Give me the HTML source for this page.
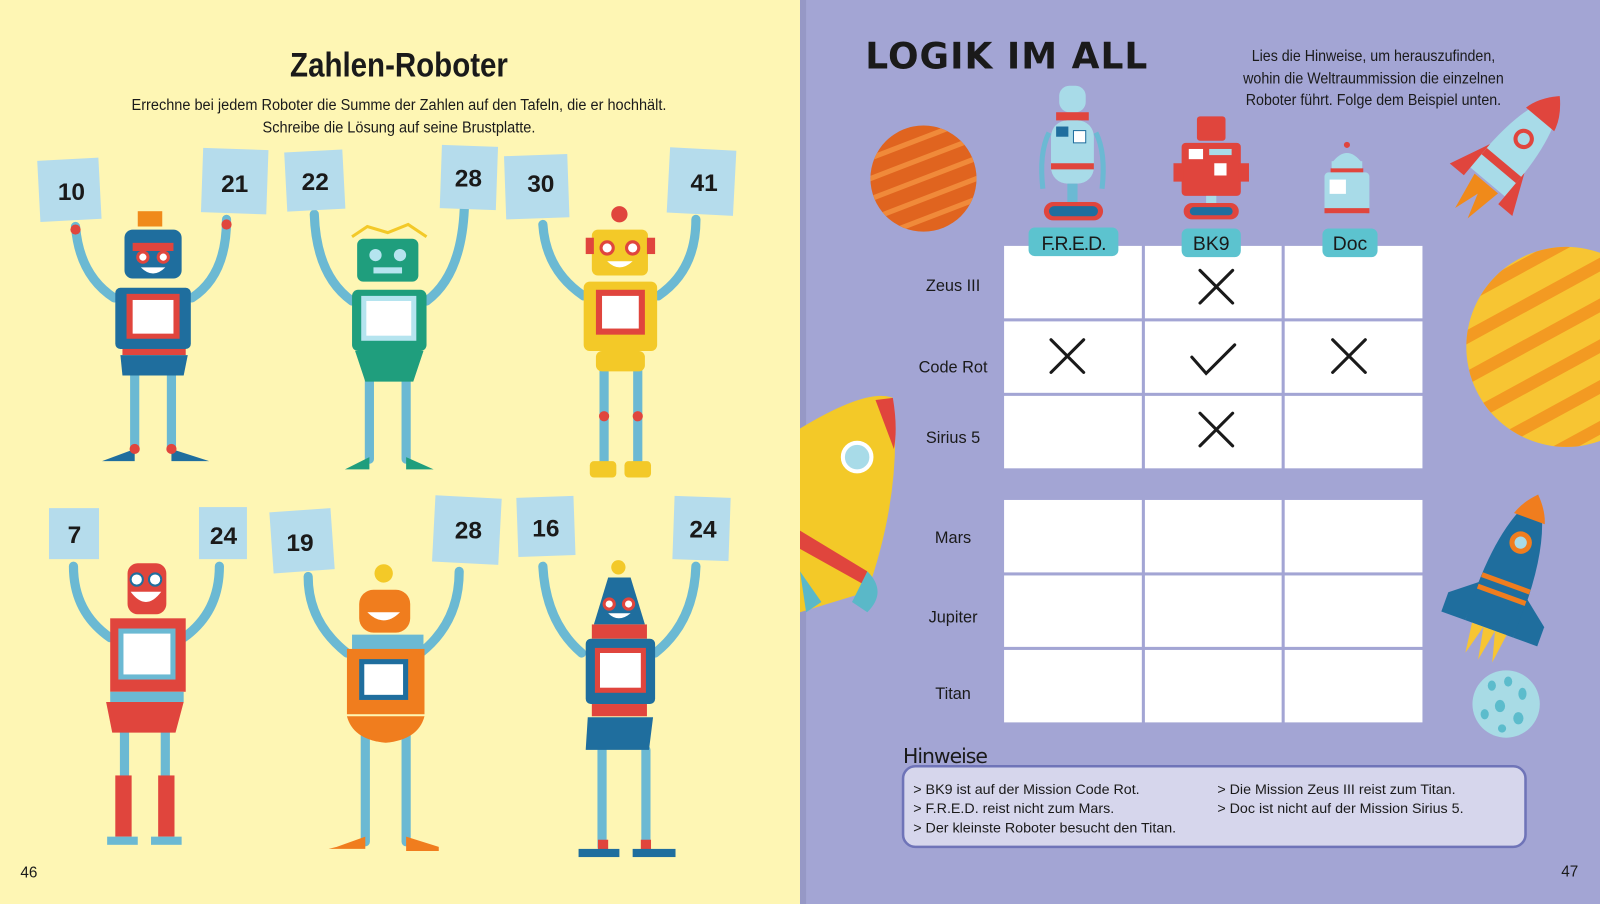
<!DOCTYPE html>
<html><head><meta charset="utf-8"><style>
html,body{margin:0;padding:0;width:1600px;height:904px;overflow:hidden;background:#fef6b4}
svg{display:block}
text{font-family:"Liberation Sans",sans-serif}
.n{font-family:"Liberation Sans",sans-serif;font-weight:bold;font-size:24px;fill:#1a1a1a;text-anchor:middle}
.lbl{font-size:16px;fill:#1a1a1a;text-anchor:middle}
.h{font-size:14px;fill:#1a1a1a}
</style></head><body>
<svg width="1600" height="904" viewBox="0 0 1568 886" preserveAspectRatio="none" xmlns="http://www.w3.org/2000/svg">
<rect x="0" y="0" width="784" height="886" fill="#fef6b4"/>
<rect x="784" y="0" width="784" height="886" fill="#a3a5d4"/>
<rect x="784" y="0" width="6" height="886" fill="#9698c6"/>

<!-- LEFT PAGE -->
<text x="391" y="75" text-anchor="middle" font-size="34" font-weight="bold" fill="#1a1a1a" transform="translate(391 0) scale(0.85 1) translate(-391 0)">Zahlen-Roboter</text>
<text x="391" y="108" text-anchor="middle" font-size="15" fill="#1a1a1a" transform="translate(391 0) scale(0.95 1) translate(-391 0)">Errechne bei jedem Roboter die Summe der Zahlen auf den Tafeln, die er hochhält.</text>
<text x="391" y="130" text-anchor="middle" font-size="15" fill="#1a1a1a" transform="translate(391 0) scale(0.95 1) translate(-391 0)">Schreibe die Lösung auf seine Brustplatte.</text>
<text x="20" y="860" font-size="15" fill="#1a1a1a">46</text>

<g stroke="#6bb9d3" stroke-width="9" fill="none" stroke-linecap="round">
<path d="M112 292 Q78 270 74 222"/><path d="M188 292 Q222 270 222 215"/>
<path d="M345 295 Q310 270 308 210"/><path d="M418 295 Q452 270 455 205"/>
<path d="M572 290 Q535 265 532 220"/><path d="M645 290 Q682 265 682 215"/>
<path d="M108 625 Q72 600 72 555"/><path d="M180 625 Q215 600 215 555"/>
<path d="M340 640 Q302 610 302 565"/><path d="M412 640 Q450 610 450 560"/>
<path d="M570 640 Q535 610 532 555"/><path d="M642 640 Q680 610 682 555"/>
<path d="M132 360 V440"/><path d="M168 360 V440"/>
<path d="M362 370 V450"/><path d="M398 370 V450"/>
<path d="M592 360 V455"/><path d="M625 360 V455"/>
<path d="M122 715 V815"/><path d="M162 715 V815"/>
<path d="M358 720 V825"/><path d="M398 720 V825"/>
<path d="M590 735 V830"/><path d="M633 735 V830"/>
</g>

<g fill="#b5dcec">
<rect x="38" y="156" width="60" height="60" transform="rotate(-3 68 186)"/>
<rect x="198" y="146" width="64" height="63" transform="rotate(2 230 178)"/>
<rect x="280" y="148" width="57" height="58" transform="rotate(-3 308 177)"/>
<rect x="432" y="143" width="55" height="62" transform="rotate(2 460 174)"/>
<rect x="495" y="152" width="62" height="62" transform="rotate(-2 526 183)"/>
<rect x="655" y="146" width="65" height="64" transform="rotate(3 688 178)"/>
<rect x="48" y="498" width="49" height="50"/>
<rect x="195" y="497" width="47" height="51"/>
<rect x="266" y="500" width="60" height="60" transform="rotate(-4 296 530)"/>
<rect x="425" y="487" width="65" height="65" transform="rotate(3 457 520)"/>
<rect x="507" y="487" width="56" height="58" transform="rotate(-2 535 516)"/>
<rect x="660" y="487" width="55" height="62" transform="rotate(2 688 518)"/>
</g>
<g class="n">
<text class="n" x="70" y="196">10</text><text class="n" x="230" y="188">21</text>
<text class="n" x="309" y="186">22</text><text class="n" x="459" y="183">28</text>
<text class="n" x="530" y="188">30</text><text class="n" x="690" y="187">41</text>
<text class="n" x="73" y="532">7</text><text class="n" x="219" y="533">24</text>
<text class="n" x="294" y="540">19</text><text class="n" x="459" y="528">28</text>
<text class="n" x="535" y="526">16</text><text class="n" x="689" y="527">24</text>
</g>

<g>
<rect x="135" y="207" width="24" height="15" fill="#f08a1a"/>
<rect x="122" y="225" width="56" height="48" rx="8" fill="#1f6e9e"/>
<rect x="130" y="238" width="40" height="8" fill="#e0453d"/>
<circle cx="140" cy="252" r="5" fill="#fff" stroke="#e0453d" stroke-width="3"/><circle cx="160" cy="252" r="5" fill="#fff" stroke="#e0453d" stroke-width="3"/>
<path d="M138 262 Q150 274 162 262Z" fill="#fff"/>
<rect x="113" y="282" width="74" height="60" rx="5" fill="#1f6e9e"/>
<rect x="124" y="288" width="52" height="44" fill="#e0453d"/><rect x="130" y="294" width="40" height="33" fill="#fff"/>
<rect x="120" y="342" width="62" height="6" fill="#e0453d"/>
<path d="M118 348 H184 L180 368 H120Z" fill="#1f6e9e"/>
<path d="M100 452 L132 440 V452Z" fill="#1f6e9e"/><path d="M168 440 L205 452 H168Z" fill="#1f6e9e"/>
<circle cx="132" cy="440" r="5" fill="#e0453d"/><circle cx="168" cy="440" r="5" fill="#e0453d"/>
<circle cx="74" cy="225" r="5" fill="#e0453d"/><circle cx="222" cy="220" r="5" fill="#e0453d"/>
</g>
<g>
<path d="M345 232 L360 222 L380 228 L400 220 L418 232" stroke="#f3c928" stroke-width="3" fill="none"/>
<rect x="350" y="234" width="60" height="42" rx="6" fill="#1f9e7d"/>
<circle cx="368" cy="250" r="6" fill="#b5e4ef"/><circle cx="392" cy="250" r="6" fill="#b5e4ef"/>
<rect x="366" y="262" width="28" height="6" fill="#b5e4ef"/>
<rect x="345" y="284" width="73" height="60" rx="6" fill="#1f9e7d"/>
<rect x="354" y="290" width="54" height="44" fill="#b5e4ef"/><rect x="359" y="295" width="44" height="34" fill="#fff"/>
<path d="M348 344 H415 L405 374 H358Z" fill="#1f9e7d"/>
<path d="M338 460 L362 448 V460Z" fill="#1f9e7d"/><path d="M398 448 L425 460 H398Z" fill="#1f9e7d"/>
</g>
<g>
<circle cx="607" cy="210" r="8" fill="#e0453d"/>
<rect x="580" y="225" width="55" height="45" rx="6" fill="#f3c928"/>
<rect x="574" y="233" width="8" height="16" fill="#e0453d"/><rect x="634" y="233" width="8" height="16" fill="#e0453d"/>
<circle cx="595" cy="243" r="6" fill="#fff" stroke="#e0453d" stroke-width="3"/><circle cx="620" cy="243" r="6" fill="#fff" stroke="#e0453d" stroke-width="3"/>
<path d="M595 256 Q607 268 620 256Z" fill="#fff"/>
<rect x="572" y="276" width="72" height="68" rx="6" fill="#f3c928"/>
<rect x="584" y="284" width="48" height="44" fill="#e0453d"/><rect x="590" y="290" width="36" height="32" fill="#fff"/>
<rect x="584" y="344" width="48" height="20" rx="6" fill="#f3c928"/>
<circle cx="592" cy="408" r="5" fill="#e0453d"/><circle cx="625" cy="408" r="5" fill="#e0453d"/>
<rect x="578" y="452" width="26" height="16" rx="4" fill="#f3c928"/><rect x="612" y="452" width="26" height="16" rx="4" fill="#f3c928"/>
</g>
<g>
<rect x="125" y="552" width="38" height="50" rx="10" fill="#e0453d"/>
<circle cx="134" cy="568" r="6" fill="#fff" stroke="#1f6e9e" stroke-width="2"/><circle cx="152" cy="568" r="6" fill="#fff" stroke="#1f6e9e" stroke-width="2"/>
<path d="M128 580 Q143 600 158 580Z" fill="#fff"/>
<rect x="108" y="606" width="74" height="72" fill="#e0453d"/>
<rect x="116" y="616" width="56" height="50" fill="#6bb9d3"/><rect x="121" y="621" width="46" height="40" fill="#fff"/>
<rect x="108" y="678" width="72" height="10" fill="#6bb9d3"/>
<path d="M104 688 H180 L172 718 H110Z" fill="#e0453d"/>
<rect x="113" y="760" width="16" height="60" fill="#e0453d"/><rect x="155" y="760" width="16" height="60" fill="#e0453d"/>
<rect x="105" y="820" width="30" height="8" fill="#6bb9d3"/><rect x="148" y="820" width="30" height="8" fill="#6bb9d3"/>
</g>
<g>
<circle cx="376" cy="562" r="9" fill="#f3c928"/>
<rect x="352" y="578" width="50" height="42" rx="14" fill="#f07d1e"/>
<path d="M360 600 Q376 616 392 600Z" fill="#fff"/>
<rect x="345" y="622" width="70" height="16" fill="#6bb9d3"/>
<rect x="340" y="636" width="76" height="64" fill="#f07d1e"/>
<rect x="352" y="646" width="48" height="40" fill="#1f6e9e"/><rect x="357" y="651" width="38" height="30" fill="#fff"/>
<path d="M340 702 H416 Q410 725 378 728 Q346 725 340 702Z" fill="#f07d1e"/>
<path d="M330 830 L358 820 V832 H322Z" fill="#f07d1e"/><path d="M398 820 L430 830 V834 H398Z" fill="#f07d1e"/>
</g>
<g>
<circle cx="606" cy="556" r="7" fill="#f3c928"/>
<path d="M596 566 H618 L632 612 H582Z" fill="#1f6e9e"/>
<circle cx="597" cy="592" r="5" fill="#fff" stroke="#e0453d" stroke-width="3"/><circle cx="616" cy="592" r="5" fill="#fff" stroke="#e0453d" stroke-width="3"/>
<path d="M596 601 Q606 611 618 601Z" fill="#fff"/>
<rect x="580" y="612" width="54" height="14" fill="#e0453d"/>
<rect x="574" y="626" width="68" height="64" rx="5" fill="#1f6e9e"/>
<rect x="583" y="635" width="50" height="44" fill="#e0453d"/><rect x="588" y="640" width="40" height="34" fill="#fff"/>
<rect x="580" y="690" width="54" height="12" fill="#e0453d"/>
<path d="M576 703 H640 L636 735 H574Z" fill="#1f6e9e"/>
<rect x="586" y="823" width="10" height="10" fill="#e0453d"/><rect x="628" y="823" width="10" height="10" fill="#e0453d"/>
<rect x="567" y="832" width="40" height="8" fill="#1f6e9e"/><rect x="620" y="832" width="42" height="8" fill="#1f6e9e"/>
</g>

<!-- RIGHT PAGE decorations -->
<defs>
<clipPath id="pl1"><circle cx="905" cy="175" r="52"/></clipPath>
<clipPath id="pl2"><circle cx="1535" cy="340" r="98"/></clipPath>
</defs>
<circle cx="905" cy="175" r="52" fill="#e0641f"/>
<g clip-path="url(#pl1)" stroke="#f08a3a" stroke-width="5">
<path d="M840 140 L970 90"/><path d="M840 160 L970 110"/><path d="M840 180 L970 130"/><path d="M840 200 L970 150"/><path d="M840 220 L970 170"/><path d="M840 240 L970 190"/><path d="M840 260 L970 210"/>
</g>
<circle cx="1535" cy="340" r="98" fill="#f7c533"/>
<g clip-path="url(#pl2)" stroke="#f39a22" stroke-width="12">
<path d="M1420 300 L1640 180"/><path d="M1420 340 L1640 220"/><path d="M1420 380 L1640 260"/><path d="M1420 420 L1640 300"/><path d="M1420 460 L1640 340"/><path d="M1420 500 L1640 380"/>
</g>
<g transform="rotate(40 1490 140)">
<path d="M1490 80 Q1515 110 1512 190 H1468 Q1465 110 1490 80Z" fill="#a8dbe8"/>
<path d="M1490 80 Q1505 95 1508 110 H1472 Q1475 95 1490 80Z" fill="#e0453d"/>
<circle cx="1490" cy="135" r="10" fill="#e0453d"/><circle cx="1490" cy="135" r="6" fill="#a8dbe8"/>
<path d="M1468 160 L1450 200 H1468Z" fill="#e0453d"/><path d="M1512 160 L1530 200 H1512Z" fill="#e0453d"/>
<rect x="1468" y="165" width="44" height="8" fill="#e0453d"/>
<path d="M1475 192 L1482 230 L1490 205 L1498 230 L1505 192Z" fill="#f08a1a"/>
</g>
<path d="M784 420 Q850 380 875 390 Q885 480 850 580 L784 600Z" fill="#f3c928"/>
<path d="M858 392 L875 390 Q880 420 876 440 Z" fill="#e0453d"/>
<circle cx="840" cy="448" r="14" fill="#a8dbe8" stroke="#fff" stroke-width="4"/>
<path d="M784 520 L850 560 L845 572 L784 538Z" fill="#e0453d"/>
<path d="M850 560 Q870 580 850 600 L835 590Z" fill="#5ab8c8"/>
<path d="M784 560 L805 590 L790 600Z" fill="#5ab8c8"/>
<g transform="rotate(20 1480 560)">
<path d="M1480 480 Q1510 520 1505 620 H1455 Q1450 520 1480 480Z" fill="#1f6e9e"/>
<path d="M1480 480 Q1492 492 1496 505 H1464 Q1468 492 1480 480Z" fill="#f07d1e"/>
<circle cx="1480" cy="530" r="11" fill="#f07d1e"/><circle cx="1480" cy="530" r="6" fill="#a8dbe8"/>
<rect x="1455" y="570" width="50" height="5" fill="#f07d1e"/><rect x="1455" y="582" width="50" height="5" fill="#f07d1e"/>
<path d="M1455 580 L1430 600 V620 H1455Z" fill="#1f6e9e"/><path d="M1505 580 L1530 600 V620 H1505Z" fill="#1f6e9e"/>
<path d="M1462 620 L1466 650 L1474 620 L1480 652 L1486 620 L1494 650 L1498 620Z" fill="#f7c533"/>
</g>
<circle cx="1476" cy="690" r="33" fill="#a8dbe5"/>
<g fill="#5cbccc"><ellipse cx="1462" cy="672" rx="4" ry="5"/><ellipse cx="1478" cy="668" rx="4" ry="5"/><ellipse cx="1492" cy="680" rx="4" ry="6"/><ellipse cx="1470" cy="692" rx="5" ry="6"/><ellipse cx="1455" cy="700" rx="4" ry="5"/><ellipse cx="1488" cy="704" rx="5" ry="6"/><ellipse cx="1472" cy="714" rx="4" ry="4"/></g>

<!-- title -->
<text x="848" y="67" font-size="36" font-weight="bold" fill="#1a1a1a" letter-spacing="1" transform="translate(848 0) scale(0.98 1) translate(-848 0)" style="font-family:'DejaVu Sans',sans-serif">LOGIK IM ALL</text>
<g font-size="15" fill="#1a1a1a" text-anchor="middle">
<text x="1346" y="60" transform="translate(1346 0) scale(0.93 1) translate(-1346 0)">Lies die Hinweise, um herauszufinden,</text>
<text x="1346" y="82" transform="translate(1346 0) scale(0.93 1) translate(-1346 0)">wohin die Weltraummission die einzelnen</text>
<text x="1346" y="103" transform="translate(1346 0) scale(0.93 1) translate(-1346 0)">Roboter führt. Folge dem Beispiel unten.</text>
</g>

<!-- small robots -->
<g>
<rect x="1038" y="84" width="26" height="26" rx="10" fill="#a8dbe8"/>
<rect x="1035" y="110" width="32" height="8" fill="#e0453d"/>
<rect x="1030" y="118" width="42" height="62" rx="16" fill="#a8dbe8"/>
<rect x="1035" y="124" width="12" height="10" fill="#1f6e9e"/><rect x="1052" y="128" width="12" height="12" fill="#fff" stroke="#1f6e9e"/>
<rect x="1030" y="160" width="42" height="6" fill="#e0453d"/>
<rect x="1046" y="180" width="10" height="18" fill="#6bb9d3"/>
<rect x="1023" y="198" width="58" height="18" rx="9" fill="#e0453d"/>
<rect x="1028" y="202" width="48" height="10" rx="5" fill="#1f6e9e"/>
<path d="M1028 130 Q1018 150 1022 185" stroke="#6bb9d3" stroke-width="5" fill="none"/><path d="M1074 130 Q1084 150 1080 185" stroke="#6bb9d3" stroke-width="5" fill="none"/>
</g>
<g>
<rect x="1173" y="114" width="28" height="24" rx="3" fill="#e0453d"/>
<rect x="1158" y="140" width="58" height="52" rx="4" fill="#e0453d"/>
<rect x="1165" y="146" width="14" height="10" fill="#fff"/><rect x="1185" y="146" width="22" height="6" fill="#a8dbe8"/>
<rect x="1190" y="160" width="12" height="12" fill="#fff"/>
<rect x="1150" y="160" width="10" height="18" fill="#e0453d"/><rect x="1214" y="160" width="10" height="18" fill="#e0453d"/>
<rect x="1182" y="192" width="10" height="8" fill="#a8dbe8"/>
<rect x="1160" y="199" width="54" height="16" rx="8" fill="#e0453d"/>
<rect x="1166" y="203" width="42" height="8" rx="4" fill="#1f6e9e"/>
</g>
<g>
<circle cx="1320" cy="142" r="3" fill="#e0453d"/>
<path d="M1305 160 Q1320 140 1335 160Z" fill="#a8dbe8"/>
<rect x="1305" y="158" width="30" height="8" fill="#a8dbe8"/>
<rect x="1304" y="165" width="32" height="4" fill="#e0453d"/>
<rect x="1298" y="169" width="44" height="40" rx="4" fill="#a8dbe8"/>
<rect x="1303" y="176" width="16" height="14" fill="#fff"/>
<rect x="1298" y="204" width="44" height="5" fill="#e0453d"/>
</g>

<!-- grids -->
<g fill="#fff">
<rect x="984" y="241" width="135" height="71"/><rect x="1122" y="241" width="134" height="71"/><rect x="1259" y="241" width="135" height="71"/>
<rect x="984" y="315" width="135" height="70"/><rect x="1122" y="315" width="134" height="70"/><rect x="1259" y="315" width="135" height="70"/>
<rect x="984" y="388" width="135" height="71"/><rect x="1122" y="388" width="134" height="71"/><rect x="1259" y="388" width="135" height="71"/>
<rect x="984" y="490" width="135" height="71"/><rect x="1122" y="490" width="134" height="71"/><rect x="1259" y="490" width="135" height="71"/>
<rect x="984" y="564" width="135" height="70"/><rect x="1122" y="564" width="134" height="70"/><rect x="1259" y="564" width="135" height="70"/>
<rect x="984" y="637" width="135" height="71"/><rect x="1122" y="637" width="134" height="71"/><rect x="1259" y="637" width="135" height="71"/>
</g>

<!-- tags (over grid) -->
<g fill="#5cc3cf">
<rect x="1008" y="223" width="88" height="28" rx="6"/>
<rect x="1158" y="224" width="58" height="28" rx="6"/>
<rect x="1296" y="224" width="54" height="28" rx="6"/>
</g>
<g font-size="19" fill="#1a1a1a" text-anchor="middle" style="font-family:'DejaVu Sans',sans-serif">
<text x="1052" y="245" letter-spacing="-1">F.R.E.D.</text><text x="1187" y="245">BK9</text><text x="1323" y="245">Doc</text>
</g>

<g stroke="#1a1a1a" stroke-width="3" stroke-linecap="round" fill="none">
<path d="M1176 265 L1208 297 M1208 265 L1176 297"/>
<path d="M1030 333 L1062 365 M1062 333 L1030 365"/>
<path d="M1306 333 L1338 365 M1338 333 L1306 365"/>
<path d="M1176 405 L1208 437 M1208 405 L1176 437"/>
<path d="M1168 350 L1182 366 L1210 338"/>
</g>
<g class="lbl">
<text class="lbl" x="934" y="285">Zeus III</text>
<text class="lbl" x="934" y="365">Code Rot</text>
<text class="lbl" x="934" y="434">Sirius 5</text>
<text class="lbl" x="934" y="532">Mars</text>
<text class="lbl" x="934" y="610">Jupiter</text>
<text class="lbl" x="934" y="685">Titan</text>
</g>

<text x="885" y="748" font-size="20" fill="#1a1a1a" style="font-family:'DejaVu Sans',sans-serif" letter-spacing="-1">Hinweise</text>
<rect x="885" y="751" width="610" height="79" rx="12" fill="#d6d6ec" stroke="#6f74b8" stroke-width="2.5"/>
<g class="h">
<text class="h" x="895" y="778">&gt; BK9 ist auf der Mission Code Rot.</text>
<text class="h" x="895" y="797">&gt; F.R.E.D. reist nicht zum Mars.</text>
<text class="h" x="895" y="816">&gt; Der kleinste Roboter besucht den Titan.</text>
<text class="h" x="1193" y="778">&gt; Die Mission Zeus III reist zum Titan.</text>
<text class="h" x="1193" y="797">&gt; Doc ist nicht auf der Mission Sirius 5.</text>
</g>
<text x="1530" y="859" font-size="15" fill="#1a1a1a">47</text>
</svg>
</body></html>
